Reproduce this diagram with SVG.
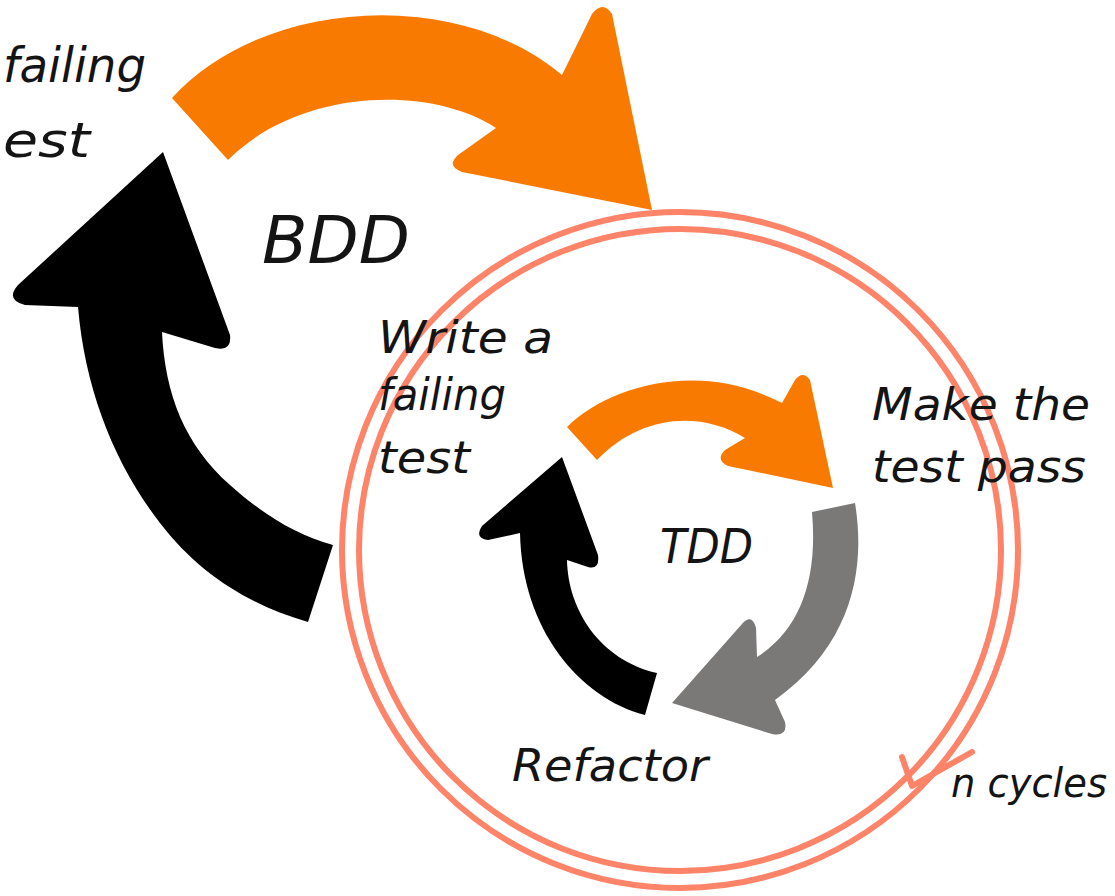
<svg xmlns="http://www.w3.org/2000/svg" width="1115" height="896" viewBox="0 0 1115 896">
<style>
.t{font-family:"DejaVu Sans","Noto Sans",sans-serif;font-style:italic;fill:#141414;}
.ring{fill:none;stroke:#FD8468;stroke-width:6;}
</style>
<rect width="1115" height="896" fill="#fff"/>
<g id="connectors">
<path id="bdd-orange" fill="#F97A00" d="M172,98 C260,0 455,-15 562,75 L592,14 Q603,0 612,14 L652,210 L462,172 Q446,166 458,155 L496,128 C430,85 300,88 228,160 Z"/>
<path id="bdd-black" fill="#000" d="M163,152 L230,335 Q232,352 215,348 L162,332 C165,395 185,445 230,485 C260,512 295,535 333,545 L308,622 C250,605 200,575 160,523 C115,465 85,390 78,307 L25,305 Q5,300 18,285 Z"/>
<g id="ncycles-ring">
<circle class="ring" cx="680" cy="550" r="338"/>
<circle class="ring" cx="680" cy="550" r="321"/>
<polyline class="ring" stroke-width="7" stroke-linejoin="round" stroke-linecap="round" points="902,757 912,786 972,752"/>
</g>
<path id="tdd-orange" fill="#F97A00" d="M567,427 C610,385 700,360 782,403 L795,380 Q803,370 810,380 L833,488 L728,466 Q715,460 725,450 L745,438 C700,410 640,415 597,460 Z"/>
<path id="tdd-grey" fill="#7B7978" d="M812,512 L855,503 C866,570 852,645 775,700 L785,722 Q788,737 772,734 L672,703 L742,624 Q752,613 756,628 L757,657 C800,630 818,580 812,512 Z"/>
<path id="tdd-black" fill="#000" d="M657,673 L645,715 C580,698 522,630 520,533 L488,540 Q474,538 482,526 L562,457 L598,555 Q600,570 588,567 L567,560 C568,610 600,660 657,673 Z"/>
</g>
<g id="bdd-label"><text class="t" x="262" y="263" font-size="66" textLength="148" lengthAdjust="spacingAndGlyphs">BDD</text></g>
<g id="bdd-write"><text class="t" x="3" y="82" font-size="48" textLength="143" lengthAdjust="spacingAndGlyphs">failing</text>
<text class="t" x="3" y="157" font-size="48" textLength="87" lengthAdjust="spacingAndGlyphs">est</text></g>
<g id="write-failing-test">
<text class="t" x="378" y="353" font-size="45" textLength="175" lengthAdjust="spacingAndGlyphs">Write a</text>
<text class="t" x="378" y="410" font-size="45" textLength="128" lengthAdjust="spacingAndGlyphs">failing</text>
<text class="t" x="378" y="473" font-size="45" textLength="92" lengthAdjust="spacingAndGlyphs">test</text>
</g>
<g id="make-test-pass">
<text class="t" x="872" y="420" font-size="45" textLength="218" lengthAdjust="spacingAndGlyphs">Make the</text>
<text class="t" x="872" y="482" font-size="45" textLength="214" lengthAdjust="spacingAndGlyphs">test pass</text>
</g>
<g id="tdd-label"><text class="t" x="660" y="563" font-size="48" textLength="93" lengthAdjust="spacingAndGlyphs">TDD</text></g>
<g id="refactor"><text class="t" x="512" y="781" font-size="45" textLength="196" lengthAdjust="spacingAndGlyphs">Refactor</text></g>
<g id="n-cycles"><text class="t" x="951" y="797" font-size="40" textLength="156" lengthAdjust="spacingAndGlyphs">n cycles</text></g>
</svg>
